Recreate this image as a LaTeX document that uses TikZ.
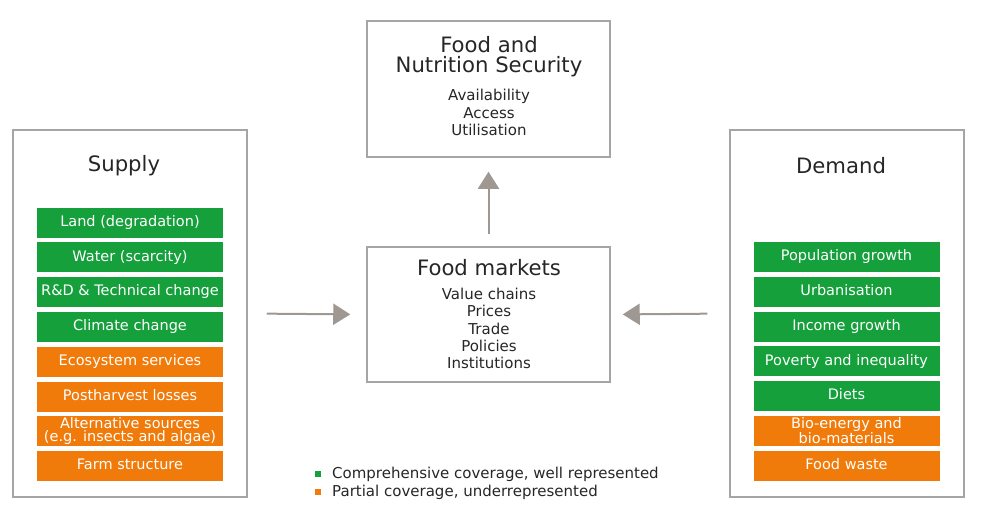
\documentclass[tikz,border=0pt]{standalone}
\usepackage{fontspec}
\setmainfont{DejaVu Sans}
\usetikzlibrary{arrows.meta,positioning}

\definecolor{cover}{HTML}{15A03C}
\definecolor{partial}{HTML}{F07B0A}
\definecolor{frame}{HTML}{A8A4A2}
\definecolor{flow}{HTML}{9E9792}
\definecolor{ink}{HTML}{262626}

\newcommand{\bigtxt}{\fontsize{21.2}{19}\selectfont}
\newcommand{\smalltxt}{\fontsize{15}{17.3}\selectfont}

\begin{document}
\begin{tikzpicture}[x=1pt,y=-1pt,
    panel/.style={draw=frame,line width=1.5pt,inner sep=0pt},
    item/.style={minimum width=186pt,minimum height=30pt,inner sep=0pt,
        text=white,align=center,font=\fontsize{14.5}{13}\selectfont},
    good/.style={item,fill=cover,text height=10.5pt,text depth=3pt},
    weak/.style={item,fill=partial,text height=10.5pt,text depth=3pt},
    weaktwo/.style={item,fill=partial},
    flowarrow/.style={draw=flow,line width=2pt,-{Triangle[length=17pt,width=21pt]}}]
    \useasboundingbox (0,0) rectangle (982,514);

    % outer boxes
    \node[panel,minimum width=234pt,minimum height=367pt] (supply) at (130,313.5) {};
    \node[panel,minimum width=234pt,minimum height=367pt] (demand) at (847,313.5) {};
    \node[panel,minimum width=243pt,minimum height=136pt] (fns) at (488.5,89) {};
    \node[panel,minimum width=243pt,minimum height=135pt] (markets) at (488.5,314.5) {};

    % food and nutrition security
    \node[ink,font=\bigtxt,anchor=base,inner sep=0pt,text depth=0pt] (fnstitle) at (489,52.5) {Food and};
    \node[ink,font=\bigtxt,anchor=base,inner sep=0pt,text height=15.5pt] (fnssub) at (489,72) {Nutrition Security};
    \node[ink,font=\smalltxt,align=center] (fnslist) at (489,112.5) {Availability\\Access\\Utilisation};

    % food markets
    \node[ink,font=\bigtxt] (mkttitle) at (489,268) {Food markets};
    \node[ink,font=\smalltxt,align=center] (mktlist) at (489,328.5)
        {Value chains\\Prices\\Trade\\Policies\\Institutions};

    % supply side
    \node[ink,font=\bigtxt] (supplytitle) at (124,166) {Supply};
    \node[good] (land) at (130,222.5) {Land (degradation)};
    \node[good,below=4.4pt of land] (water) {Water (scarcity)};
    \node[good,below=4.4pt of water] (rnd) {R\&D \& Technical change};
    \node[good,below=4.4pt of rnd] (climate) {Climate change};
    \node[weak,below=4.4pt of climate] (ecosys) {Ecosystem services};
    \node[weak,below=4.4pt of ecosys] (losses) {Postharvest losses};
    \node[weaktwo,below=4.4pt of losses] (altsrc) {Alternative sources\\(e.g. insects and algae)};
    \node[weak,below=4.4pt of altsrc] (farm) {Farm structure};

    % demand side
    \node[ink,font=\bigtxt] (demandtitle) at (841,166) {Demand};
    \node[good] (popgrowth) at (846.5,256.9) {Population growth};
    \node[good,below=4.4pt of popgrowth] (urban) {Urbanisation};
    \node[good,below=4.4pt of urban] (income) {Income growth};
    \node[good,below=4.4pt of income] (poverty) {Poverty and inequality};
    \node[good,below=4.4pt of poverty] (diets) {Diets};
    \node[weaktwo,below=4.4pt of diets] (bioenergy) {Bio-energy and\\bio-materials};
    \node[weak,below=4.4pt of bioenergy] (waste) {Food waste};

    % flows
    \draw[flowarrow,shorten <=12pt,shorten >=14pt] (markets.north) -- (fns.south);
    \draw[flowarrow,shorten <=19pt,shorten >=16pt] (supply.east) -- (markets.west);
    \draw[flowarrow,shorten <=22pt,shorten >=12pt] (demand.west) -- (markets.east);

    % legend
    \fill[cover] (314.5,471) rectangle (320.5,477);
    \node[ink,font=\smalltxt,anchor=west,inner sep=0pt] (keygood) at (332,474.5)
        {Comprehensive coverage, well represented};
    \fill[partial] (314.5,488.5) rectangle (320.5,494.5);
    \node[ink,font=\smalltxt,anchor=west,inner sep=0pt] (keyweak) at (332,492)
        {Partial coverage, underrepresented};
\end{tikzpicture}
\end{document}
